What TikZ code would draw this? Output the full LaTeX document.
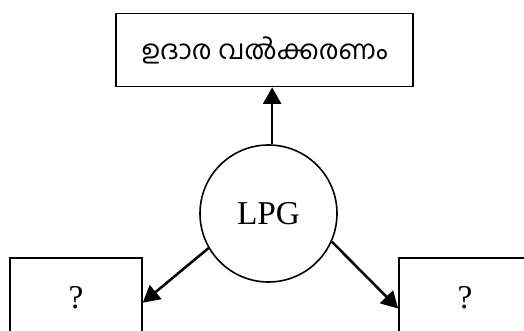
\documentclass[tikz,border=0pt]{standalone}
\usepackage{fontspec}
\setmainfont{Liberation Serif}
\newfontfamily\malfont[Script=Malayalam]{Hind Kochi}
\usetikzlibrary{arrows.meta}
\begin{document}
\begin{tikzpicture}[x=0.75pt, y=-0.75pt,
    box/.style={draw, line width=1.2pt, inner sep=0pt},
    ball/.style={draw, circle, line width=1.2pt, minimum size=137*0.75pt, inner sep=0pt},
    big/.style={font=\fontsize{25pt}{30pt}\selectfont},
    link/.style={line width=1.9pt, -{Triangle[length=12.5pt, width=13.5pt]}}]
    % \draw [help lines] (0,0) grid (524,331);
    \useasboundingbox (0,0) rectangle (524,331);

    \node [box, minimum width=297*0.75pt, minimum height=73*0.75pt] (top) at (264.5, 50)
        {\malfont\fontsize{20pt}{24pt}\selectfont ഉദാര വൽക്കരണം};
    \node [ball, big] (lpg) at (268.5, 213.5) {LPG};

    \node [box, big, minimum width=132*0.75pt, minimum height=80*0.75pt] (left) at (76, 298) {?};
    \node [box, big, minimum width=132*0.75pt, minimum height=80*0.75pt] (right) at (465, 298) {?};

    \draw [link] (lpg.87) -- (lpg.87 |- top.south);
    \draw [link] (lpg.210) -- (left.-4);
    \draw [link] (lpg.336) -- (right.189);
\end{tikzpicture}
\end{document}
